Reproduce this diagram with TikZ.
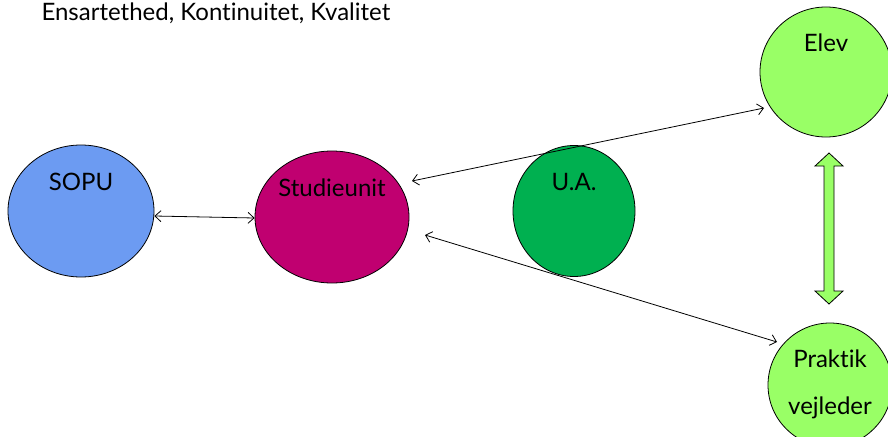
\documentclass[tikz,border=0pt]{standalone}
\usepackage{fontspec}
\setmainfont{Lato}[Ligatures=NoCommon]
\usetikzlibrary{arrows.meta,shapes.geometric}

\definecolor{sopublue}{RGB}{108,155,242}
\definecolor{studiemagenta}{RGB}{192,0,112}
\definecolor{uagreen}{RGB}{0,176,80}
\definecolor{elevgreen}{RGB}{153,255,102}

\begin{document}
\begin{tikzpicture}[x=1pt,y=-1pt,
    link/.style={line width=0.8pt,{Straight Barb[length=6pt,width=11pt]}-{Straight Barb[length=6pt,width=11pt]}},
    tag/.style={font=\fontsize{24}{28}\selectfont}]
\useasboundingbox (0,0) rectangle (888,436);
\clip (0,0) rectangle (888,436);

\node[anchor=base west,font=\fontsize{24}{28}\selectfont] (title) at (38,21) {Ensartethed, Kontinuitet, Kvalitet};

\begin{scope}[every node/.style={ellipse,draw,line width=0.8pt,inner sep=0pt}]
    \node[fill=sopublue,minimum width=146pt,minimum height=132pt]     (sopu)    at (81,211)  {};
    \node[fill=studiemagenta,minimum width=154pt,minimum height=132pt] (studie) at (332,217) {};
    \node[fill=uagreen,minimum width=122pt,minimum height=131pt]      (ua)      at (574,211) {};
    \node[fill=elevgreen,minimum width=132pt,minimum height=130pt]    (elev)    at (826,72)  {};
    \node[fill=elevgreen,minimum width=124pt,minimum height=124pt]    (praktik) at (830,385) {};
\end{scope}

\node[tag] (sopu-t)   at ([yshift=29pt]sopu)   {SOPU};
\node[tag] (studie-t) at ([yshift=29pt]studie) {Studieunit};
\node[tag] (ua-t)     at ([yshift=29pt]ua)     {U.A.};
\node[tag] (elev-t)   at ([yshift=29pt]elev)   {Elev};
\node[tag,align=center,font=\fontsize{24}{47}\selectfont] (praktik-t) at ([yshift=1pt]praktik) {Praktik\\vejleder};

% block arrow between Elev and Praktik vejleder
\draw[line width=0.8pt,fill=elevgreen] (829,153) -- (843,166) -- (834,166) -- (834,291) -- (843,291)
    -- (829,304) -- (815,291) -- (824,291) -- (824,166) -- (815,166) -- cycle;

\draw[link] ([yshift=-5pt]sopu.east) -- ([yshift=-1pt]studie.west);
\draw[link] ([shift={(80,-36)}]studie.center) -- ([shift={(-62,36)}]elev.center);
\draw[link] ([shift={(93,18)}]studie.center) -- ([shift={(-53,-43)}]praktik.center);
\end{tikzpicture}
\end{document}
